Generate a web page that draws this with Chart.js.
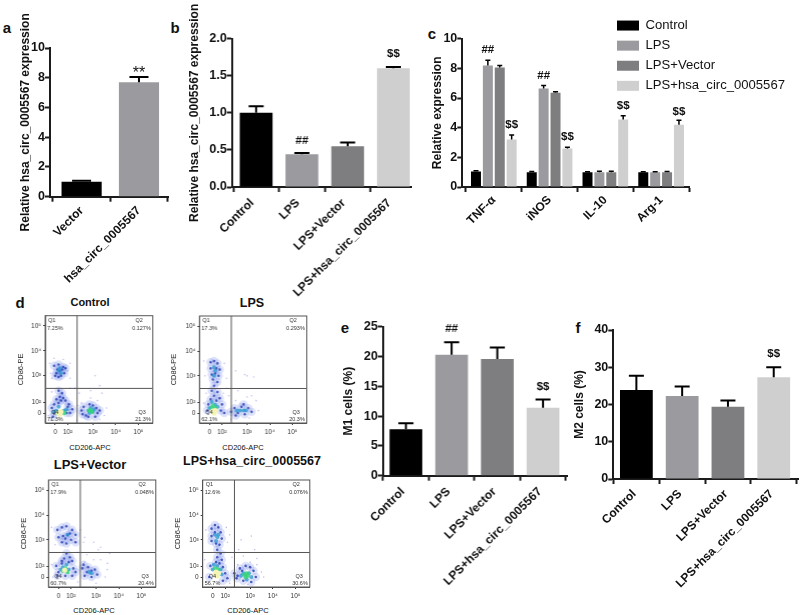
<!DOCTYPE html>
<html><head><meta charset="utf-8">
<script src="https://cdn.jsdelivr.net/npm/chart.js@4/dist/chart.umd.min.js"></script>
<style>
html,body{margin:0;padding:0;background:#fff}
#page{position:relative;width:800px;height:615px;overflow:hidden;font-family:"Liberation Sans",Arial,sans-serif;color:#111}
canvas{position:absolute}
.t{position:absolute;white-space:nowrap;transform:translate(-50%,-50%)}
</style></head><body><div id="page">
<div class="t" style="left:7px;top:27px;font:bold 15px 'Liberation Sans'">a</div>
<div class="t" style="left:175px;top:27px;font:bold 15px 'Liberation Sans'">b</div>
<div class="t" style="left:432px;top:33px;font:bold 15px 'Liberation Sans'">c</div>
<div class="t" style="left:20px;top:302px;font:bold 15px 'Liberation Sans'">d</div>
<div class="t" style="left:345px;top:327px;font:bold 15px 'Liberation Sans'">e</div>
<div class="t" style="left:578px;top:327px;font:bold 15px 'Liberation Sans'">f</div>
<div class="t" style="left:90px;top:302px;font:bold 11px 'Liberation Sans'">Control</div>
<div class="t" style="left:252px;top:303px;font:bold 12.5px 'Liberation Sans'">LPS</div>
<div class="t" style="left:90px;top:464px;font:bold 13px 'Liberation Sans'">LPS+Vector</div>
<div class="t" style="left:252px;top:461px;font:bold 12.5px 'Liberation Sans'">LPS+hsa_circ_0005567</div>
<div class="t" style="left:90px;top:447px;font:7.5px 'Liberation Sans'">CD206-APC</div>
<div class="t" style="left:243px;top:447px;font:7.5px 'Liberation Sans'">CD206-APC</div>
<div class="t" style="left:94px;top:610px;font:7.5px 'Liberation Sans'">CD206-APC</div>
<div class="t" style="left:248px;top:610px;font:7.5px 'Liberation Sans'">CD206-APC</div>
</div>
<script>
/* ---------- data ---------- */
const groupNames = ["Control","LPS","LPS+Vector","LPS+hsa_circ_0005567"];
const groupColors = ["#000000","#9b9b9f","#7e7e80","#cfcfcf"];

const aCategories = ["Vector","hsa_circ_0005567"];
const aValues = [1.0,7.7];
const aErrors = [0.08,0.35];
const aMarks = [["**",1,8.31]];

const bValues = [1.0,0.44,0.55,1.6];
const bErrors = [0.09,0.02,0.05,0.02];
const bMarks = [["##",1,0.62],["$$",3,1.8]];

const cCategories = ["TNF-α","iNOS","IL-10","Arg-1"];
const cControl = [1.05,1.0,1.0,1.0];
const cLps = [8.2,6.65,1.0,1.0];
const cVector = [8.05,6.35,1.0,1.0];
const cHsa = [3.2,2.6,4.55,4.2];
const cControlErr = [0.05,0.04,0.02,0.03];
const cLpsErr = [0.35,0.2,0.07,0.03];
const cVectorErr = [0.15,0.07,0.06,0.05];
const cHsaErr = [0.3,0.08,0.25,0.3];
const cMarksLps = [["##",0,9.24],["##",1,7.48]];
const cMarksHsa = [["$$",0,4.18],["$$",1,3.37],["$$",2,5.46],["$$",3,5.06]];

const eValues = [7.8,20.3,19.6,11.4];
const eErrors = [1.0,2.1,1.9,1.4];
const eMarks = [["##",1,24.6],["$$",3,14.9]];

const fValues = [23.9,22.3,19.4,27.3];
const fErrors = [3.8,2.5,1.7,2.7];
const fMarks = [["$$",3,33.6]];

/* flow cytometry: axis units are decades on the displayed axis */
const flowXTicks = [1.35,1.9,3,4,5];
const flowYTicks = [1.5,1.93,3,4,5];
const flowTickLabels = ["0","10²","10³","10⁴","10⁵"];
const gateX = 2.31, gateY = 2.49;

const quadControl = ["7.25%","0.127%","21.3%","71.3%"];
const quadLps = ["17.3%","0.293%","20.3%","62.1%"];
const quadVector = ["17.9%","0.048%","20.4%","60.7%"];
const quadHsa = ["12.6%","0.076%","30.6%","56.7%"];

const ctlSparse=[[1.1,3.5],[1.2,2.9],[2.0,3.5],[2.0,2.9],[1.9,3.2],[1.3,3.7],[1.7,3.65],[1.15,3.1],[2.4,2.3],[2.2,2.5],[3.1,3.0],[3.3,2.6],[2.9,2.4],[3.4,2.3],[3.6,1.7],[3.5,1.4],[2.3,1.2],[3.3,1.25],[2.5,1.9],[3.2,2.0],[2.9,2.1],[1.2,2.35],[2.0,2.5],[1.05,1.4],[2.35,1.8]];
const ctlBlue=[[1.3,3.4],[1.4,3.1],[1.5,3.45],[1.6,3.0],[1.7,3.35],[1.75,3.1],[1.45,3.25],[1.55,3.2],[1.65,3.25],[1.35,3.0],[1.8,3.3],[1.5,2.95],[1.5,2.4],[1.65,2.3],[1.55,2.15],[1.7,2.1],[1.4,2.05],[1.6,2.0],[1.8,2.0],[1.5,1.9],[1.3,1.85],[1.2,1.7],[1.3,1.5],[1.9,1.75],[2.0,1.5],[2.1,1.65],[1.85,1.5],[1.95,1.85],[1.25,1.35],[2.5,1.6],[2.6,1.75],[2.7,1.4],[2.85,1.85],[3.0,1.8],[3.15,1.7],[3.2,1.5],[3.1,1.35],[2.8,1.35],[2.55,1.45],[3.3,1.6]];
const ctlCyan=[[1.5,3.2],[1.6,3.1],[1.55,3.3],[1.4,1.6],[1.5,1.75],[1.75,1.6],[1.85,1.65],[1.3,1.55],[2.8,1.6],[2.9,1.7],[3.0,1.55],[2.85,1.5],[3.05,1.65]];
const ctlGreen=[[1.45,1.5],[1.65,1.55],[1.75,1.5],[2.9,1.6],[2.95,1.55],[2.85,1.6]];
const ctlYellow=[[1.5,1.5],[1.55,1.45],[1.6,1.55]];

const lpsSparse=[[1.1,3.6],[2.0,3.5],[2.1,2.9],[1.15,3.0],[2.1,2.5],[2.5,3.2],[3.0,3.0],[3.3,2.95],[2.9,3.05],[2.6,2.4],[3.2,2.2],[2.5,2.0],[2.2,2.2],[3.4,2.0],[3.0,2.15],[3.5,1.6],[2.3,1.25],[3.1,1.3],[1.95,2.3],[1.2,2.3],[1.1,1.9]];
const lpsBlue=[[1.4,3.55],[1.55,3.6],[1.7,3.5],[1.4,3.3],[1.65,3.3],[1.8,3.25],[1.45,3.05],[1.6,3.1],[1.75,3.0],[1.5,2.85],[1.7,2.75],[1.55,2.6],[1.45,2.4],[1.7,2.35],[1.55,2.2],[1.8,2.1],[1.4,2.05],[1.65,2.0],[1.3,1.85],[1.9,1.85],[1.85,1.6],[2.0,1.5],[1.25,1.6],[2.3,1.55],[2.45,1.7],[2.6,1.5],[2.75,1.75],[2.9,1.45],[3.05,1.7],[3.2,1.55],[2.5,1.4],[2.85,1.85]];
const lpsCyan=[[1.55,3.35],[1.6,3.2],[1.55,3.0],[1.45,1.95],[1.6,1.85],[1.7,1.75],[1.35,1.7],[2.55,1.6],[2.7,1.6],[2.85,1.6],[2.95,1.6]];
const lpsGreen=[[1.5,1.8],[1.6,1.7],[1.45,1.7]];
const lpsYellow=[[1.5,1.58],[1.55,1.5],[1.6,1.6]];

const vecSparse=[[1.05,3.5],[2.3,3.4],[2.5,3.1],[2.45,2.9],[2.9,2.9],[3.2,2.7],[3.6,2.45],[3.1,2.6],[2.6,2.4],[2.9,2.2],[3.2,2.2],[3.5,2.05],[2.5,2.1],[3.4,1.5],[3.5,1.8],[2.2,1.3],[3.0,1.25],[1.05,2.0],[1.1,1.5],[2.2,2.5],[1.2,2.8],[2.1,2.9]];
const vecBlue=[[1.3,3.4],[1.5,3.5],[1.7,3.55],[1.95,3.4],[2.1,3.2],[1.35,3.1],[1.55,3.15],[1.75,3.2],[1.9,3.0],[2.1,2.9],[1.5,2.9],[1.7,2.85],[1.85,3.25],[1.65,3.05],[1.7,2.45],[1.85,2.3],[1.6,2.25],[1.95,2.15],[1.5,2.15],[1.25,1.95],[1.35,1.7],[1.5,2.05],[1.8,2.1],[2.0,1.85],[2.1,1.7],[1.95,1.55],[1.3,1.55],[1.65,1.55],[2.4,1.85],[2.5,1.55],[2.65,1.9],[2.8,1.5],[2.95,1.8],[3.05,1.6],[2.6,1.7],[2.8,1.75],[2.45,2.0]];
const vecCyan=[[1.75,3.2],[1.55,1.9],[1.7,2.0],[1.8,1.8],[1.45,1.8],[2.7,1.7],[2.8,1.65]];
const vecGreen=[[1.65,1.85],[1.55,1.75],[1.75,1.7]];
const vecYellow=[[1.62,1.78]];

const hsaSparse=[[1.05,3.4],[1.95,3.5],[2.0,2.9],[2.1,3.2],[2.6,3.0],[3.05,3.15],[3.2,2.6],[2.5,2.6],[2.2,2.3],[2.7,2.35],[3.3,2.25],[3.0,2.1],[2.45,2.0],[3.5,1.7],[3.6,1.5],[3.3,2.0],[1.0,2.2],[2.1,1.25],[2.9,1.2],[1.05,1.3],[1.9,2.5]];
const hsaBlue=[[1.3,3.45],[1.45,3.6],[1.6,3.5],[1.7,3.3],[1.3,3.15],[1.45,3.3],[1.75,3.05],[1.3,2.95],[1.5,2.85],[1.65,2.8],[1.55,2.6],[1.7,2.45],[1.55,2.3],[1.75,2.2],[1.5,2.1],[1.65,2.05],[1.25,1.95],[1.8,1.9],[1.9,1.65],[2.0,1.45],[1.2,1.5],[1.8,1.35],[2.3,1.65],[2.45,1.55],[2.55,1.85],[2.7,1.35],[3.0,1.9],[3.15,1.75],[3.25,1.5],[3.05,1.3],[2.65,1.75],[2.4,1.45],[2.8,1.95]];
const hsaCyan=[[1.45,3.2],[1.55,3.1],[1.5,2.95],[1.6,3.2],[1.4,2.0],[1.55,1.95],[1.7,1.8],[1.35,1.8],[1.75,1.6],[2.6,1.55],[2.7,1.65],[2.95,1.65],[3.05,1.5],[2.85,1.4]];
const hsaGreen=[[1.45,1.85],[1.6,1.8],[2.75,1.6],[2.85,1.65],[2.9,1.55],[2.8,1.5]];
const hsaYellow=[[1.45,1.6],[1.55,1.55],[1.5,1.7],[1.6,1.65]];

/* ---------- helpers ---------- */
Chart.defaults.font.family = '"Liberation Sans", Arial, sans-serif';
Chart.defaults.animation = false;
const INK = "#1c1c1c";
const page = document.getElementById("page");

function mkCanvas(l,t,w,h){
  const c=document.createElement("canvas");
  c.width=w;c.height=h;c.style.left=l+"px";c.style.top=t+"px";c.style.width=w+"px";c.style.height=h+"px";
  page.appendChild(c);return c.getContext("2d");
}

const errPlugin={id:"errbars",afterDatasetsDraw(chart,args,o){
  const ctx=chart.ctx,y=chart.scales.y;
  ctx.save();ctx.strokeStyle="#000";ctx.lineWidth=o.width;
  chart.data.datasets.forEach((ds,i)=>{
    chart.getDatasetMeta(i).data.forEach((bar,j)=>{
      const top=y.getPixelForValue(ds.values[j]+ds.errors[j]);
      ctx.beginPath();ctx.moveTo(bar.x,bar.y);ctx.lineTo(bar.x,top);
      ctx.moveTo(bar.x-o.cap/2,top);ctx.lineTo(bar.x+o.cap/2,top);ctx.stroke();
    });
  });
  ctx.restore();
}};
const markPlugin={id:"marks",afterDatasetsDraw(chart){
  const ctx=chart.ctx,y=chart.scales.y;
  ctx.save();ctx.fillStyle="#111";ctx.textAlign="center";ctx.textBaseline="middle";
  chart.data.datasets.forEach((ds,i)=>{
    (ds.marks||[]).forEach(m=>{
      const bar=chart.getDatasetMeta(i).data[m[1]];
      ctx.font=(m[0]==="**"?"16px ":"bold 11.5px ")+'"Liberation Sans"';
      ctx.fillText(m[0],bar.x,y.getPixelForValue(m[2]));
    });
  });
  ctx.restore();
}};

function barChart(g,cats,datasets){
  const W=g.right-g.left+g.pad, H=g.height;
  new Chart(mkCanvas(g.left,g.top,W,H),{
    type:"bar",
    data:{datasets:datasets.map(d=>({
      label:d.label,values:d.values,errors:d.errors,marks:d.marks,
      data:d.values.map((v,i)=>({x:i,y:v})),
      backgroundColor:d.colors,borderWidth:0,
      categoryPercentage:g.catPct,barPercentage:g.barPct,grouped:true
    }))},
    options:{
      responsive:false,
      layout:{padding:{top:g.plotTop-g.top,right:g.pad,left:0,bottom:0}},
      plugins:{legend:{display:false},tooltip:{enabled:false},errbars:{cap:g.cap,width:g.errW}},
      scales:{
        x:{type:"linear",offset:false,min:g.xMin,max:g.xMax,
          afterBuildTicks:s=>{s.ticks=cats.map((_,i)=>({value:i}));},
          afterFit:s=>{s.height=H-(g.plotBottom-g.top);s.paddingLeft=0;s.paddingRight=0;},
          grid:{drawOnChartArea:false,tickLength:5,tickWidth:2,tickColor:INK},
          border:{color:INK,width:2},
          ticks:{autoSkip:false,minRotation:45,maxRotation:45,padding:g.xPad,labelOffset:g.xShift,color:"#111",font:{size:12,weight:"bold"},
            callback:(v,i)=>cats[i]}},
        y:{min:g.yMin,max:g.yMax,
          afterFit:s=>{s.width=g.axisX-g.left;s.paddingTop=0;s.paddingBottom=0;},
          grid:{drawOnChartArea:false,tickLength:5,tickWidth:2,tickColor:INK},
          border:{color:INK,width:2},
          title:{display:true,text:g.yTitle,color:"#111",padding:0,font:{size:12,weight:"bold"}},
          ticks:{stepSize:g.yStep,padding:0,color:"#111",font:{size:12.5,weight:"bold"},
            callback:v=>g.yFixed?v.toFixed(g.yFixed):String(v)}}
      }
    },
    plugins:[errPlugin,markPlugin]
  });
}

const quadPlugin={id:"quad",afterDraw(chart,args,o){
  const ctx=chart.ctx,a=chart.chartArea;
  ctx.save();ctx.strokeStyle="#555";ctx.lineWidth=1;
  ctx.strokeRect(a.left,a.top,a.right-a.left,a.bottom-a.top);
  ctx.fillStyle="#333";ctx.font='5.5px "Liberation Sans"';ctx.textBaseline="middle";
  const q=o.values,wr=a.right-2,l=a.left+2;
  ctx.textAlign="left";
  ctx.fillText("Q1",l+1,a.top+4.5);ctx.fillText(q[0],l,a.top+12.5);
  ctx.fillText("Q4",l+4,a.bottom-11);ctx.fillText(q[3],l,a.bottom-4);
  ctx.textAlign="right";
  ctx.fillText("Q2",wr-8,a.top+4.5);ctx.fillText(q[1],wr,a.top+12.5);
  ctx.fillText("Q3",wr-5,a.bottom-11);ctx.fillText(q[2],wr,a.bottom-4);
  ctx.restore();
}};

function flowChart(g,lv,quad){
  const toXY=a=>a.map(p=>({x:p[0],y:p[1]}));
  const xMin=0.91,xMax=5.63,yMin=1.1,yMax=5.41;
  const lvl=(pts,col,r)=>({data:toXY(pts),backgroundColor:col,borderWidth:0,pointRadius:r,pointBorderWidth:0});
  const gate=pts=>({data:pts,showLine:true,borderColor:"#555",borderWidth:1,pointRadius:0});
  const cw=g.right-g.left+4, ch=g.bottom-g.top+24;
  const ctx=mkCanvas(g.left,g.top,cw,ch);
  ctx.canvas.style.filter="blur(0.5px)";
  new Chart(ctx,{
    type:"scatter",
    data:{datasets:[
      gate([{x:gateX,y:yMin},{x:gateX,y:yMax}]),
      gate([{x:xMin,y:gateY},{x:xMax,y:gateY}]),
      lvl(lv[4],"#f5f4b4",2.6),
      lvl(lv[3],"rgba(53,210,122,0.85)",2.2),
      lvl(lv[2],"rgba(40,150,205,0.75)",2),
      lvl(lv[1],"rgba(25,50,170,0.75)",1.3),
      lvl(lv[1],"rgba(90,115,230,0.2)",4.2),
      lvl(lv[0],"#c4beee",0.8)
    ]},
    options:{
      responsive:false,
      layout:{padding:{top:g.plotTop-g.top,right:4,left:0,bottom:0}},
      plugins:{legend:{display:false},tooltip:{enabled:false},quad:{values:quad}},
      scales:{
        x:{type:"linear",min:xMin,max:xMax,
          afterBuildTicks:s=>{s.ticks=flowXTicks.map(v=>({value:v}));},
          afterFit:s=>{s.height=ch-(g.plotBottom-g.top);s.paddingLeft=0;s.paddingRight=0;},
          grid:{drawOnChartArea:false,tickLength:2,tickWidth:1,tickColor:"#333"},border:{color:"#555"},
          ticks:{autoSkip:false,maxRotation:0,minRotation:0,padding:3,color:"#333",font:{size:6.5},callback:(v,i)=>flowTickLabels[i]}},
        y:{type:"linear",min:yMin,max:yMax,
          afterBuildTicks:s=>{s.ticks=flowYTicks.map(v=>({value:v}));},
          afterFit:s=>{s.width=g.axisX-g.left;s.paddingTop=0;s.paddingBottom=0;},
          grid:{drawOnChartArea:false,tickLength:2,tickWidth:1,tickColor:"#333"},border:{color:"#555"},
          title:{display:true,text:"CD86-PE",color:"#222",padding:0,font:{size:7.5}},
          ticks:{autoSkip:false,padding:2,color:"#333",font:{size:6.5},callback:(v,i)=>flowTickLabels[i]}}
      }
    },
    plugins:[quadPlugin]
  });
}

/* ---------- panels ---------- */
barChart({left:18,top:0,right:168.3,pad:4,height:300,axisX:50,plotTop:48,plotBottom:196.7,xMin:-0.551,xMax:1.506,xPad:2,xShift:0,
  yMin:0,yMax:10,yStep:2,yTitle:"Relative hsa_circ_0005567 expression",catPct:1,barPct:0.70,cap:19,errW:2},
  aCategories,[{label:"a",values:aValues,errors:aErrors,marks:aMarks,colors:[groupColors[0],groupColors[1]]}]);

barChart({left:187,top:0,right:410.7,pad:4,height:300,axisX:231.7,plotTop:38.7,plotBottom:187,xMin:-0.53,xMax:3.385,xPad:4,xShift:-4,
  yMin:0,yMax:2,yStep:0.5,yFixed:1,yTitle:"Relative hsa_circ_0005567 expression",catPct:1,barPct:0.716,cap:15,errW:2},
  groupNames,[{label:"b",values:bValues,errors:bErrors,marks:bMarks,colors:groupColors}]);

barChart({left:430,top:0,right:689.3,pad:4,height:300,axisX:462.3,plotTop:38.7,plotBottom:187,xMin:-0.565,xMax:3.50,xPad:1,xShift:0,
  yMin:0,yMax:10,yStep:2,yTitle:"Relative expression",catPct:0.853,barPct:0.84,cap:5,errW:1.5},
  cCategories,[
   {label:groupNames[0],values:cControl,errors:cControlErr,colors:groupColors[0]},
   {label:groupNames[1],values:cLps,errors:cLpsErr,marks:cMarksLps,colors:groupColors[1]},
   {label:groupNames[2],values:cVector,errors:cVectorErr,colors:groupColors[2]},
   {label:groupNames[3],values:cHsa,errors:cHsaErr,marks:cMarksHsa,colors:groupColors[3]}]);

barChart({left:341,top:300,right:566.7,pad:4,height:300,axisX:382.7,plotTop:326.7,plotBottom:475.7,xMin:-0.504,xMax:3.525,xPad:4,xShift:-3,
  yMin:0,yMax:25,yStep:5,yTitle:"M1 cells (%)",catPct:1,barPct:0.716,cap:15,errW:2},
  groupNames,[{label:"e",values:eValues,errors:eErrors,marks:eMarks,colors:groupColors}]);

barChart({left:572,top:300,right:798,pad:2,height:300,axisX:613.3,plotTop:330,plotBottom:479,xMin:-0.504,xMax:3.53,xPad:3,xShift:-2,
  yMin:0,yMax:40,yStep:10,yTitle:"M2 cells (%)",catPct:1,barPct:0.716,cap:15,errW:2},
  groupNames,[{label:"f",values:fValues,errors:fErrors,marks:fMarks,colors:groupColors}]);

/* legend of the grouped panel */
new Chart(mkCanvas(610,12,190,110),{
  type:"bar",
  data:{labels:[],datasets:groupNames.map((n,i)=>({label:n,data:[],backgroundColor:groupColors[i],borderWidth:0}))},
  options:{responsive:false,layout:{padding:0},
    scales:{x:{display:false},y:{display:false}},
    plugins:{tooltip:{enabled:false},
      legend:{position:"left",align:"start",maxWidth:190,
        labels:{boxWidth:22,boxHeight:10,padding:7,color:"#111",font:{size:13.1}}}}}
});

flowChart({left:16,top:305,right:152.7,axisX:45,plotTop:315.7,plotBottom:423.3,bottom:423.3},[ctlSparse,ctlBlue,ctlCyan,ctlGreen,ctlYellow],quadControl);
flowChart({left:169,top:305,right:306.7,axisX:199.3,plotTop:316,plotBottom:423.3,bottom:423.3},[lpsSparse,lpsBlue,lpsCyan,lpsGreen,lpsYellow],quadLps);
flowChart({left:19,top:470,right:155.7,axisX:48.3,plotTop:480,plotBottom:587.3,bottom:587.3},[vecSparse,vecBlue,vecCyan,vecGreen,vecYellow],quadVector);
flowChart({left:173,top:470,right:310.3,axisX:202.7,plotTop:480,plotBottom:587.3,bottom:587.3},[hsaSparse,hsaBlue,hsaCyan,hsaGreen,hsaYellow],quadHsa);
</script></body></html>
